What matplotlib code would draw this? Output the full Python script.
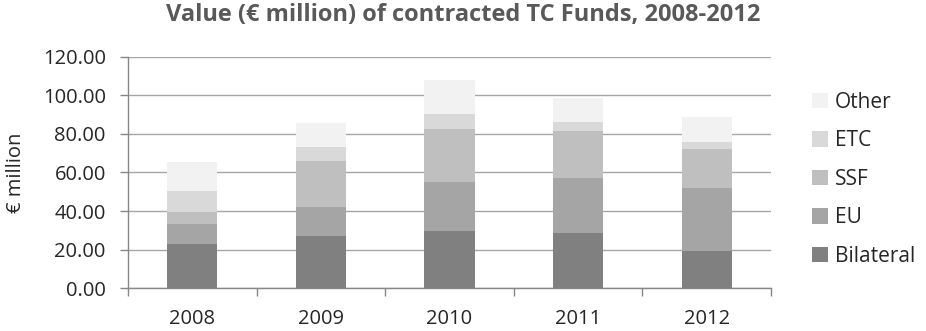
import matplotlib
matplotlib.use("Agg")
import matplotlib.pyplot as plt
import numpy as np

plt.rcParams['font.family'] = ['Open Sans', 'DejaVu Sans']

# data (€ million)
years = ['2008', '2009', '2010', '2011', '2012']
bilateral = [22.8, 27.3, 29.5, 28.5, 19.3]
eu = [10.3, 15.0, 25.4, 28.8, 32.8]
ssf = [6.6, 23.6, 27.6, 24.2, 20.1]
etc = [10.7, 7.5, 7.6, 4.6, 3.4]
other = [14.9, 12.2, 17.8, 12.7, 13.3]

series = [('Bilateral', bilateral, '#808080'),
          ('EU', eu, '#a5a5a5'),
          ('SSF', ssf, '#bfbfbf'),
          ('ETC', etc, '#d9d9d9'),
          ('Other', other, '#f2f2f2')]

fig = plt.figure(figsize=(9.26, 3.31), dpi=100)
ax = fig.add_axes([0.1382, 0.129, 0.6944, 0.6998])

x = np.arange(len(years))
bottom = np.zeros(len(years))
handles = []
for name, vals, col in series:
    b = ax.bar(x, vals, width=0.39, bottom=bottom, color=col, label=name, zorder=3)
    handles.append(b)
    bottom += np.array(vals)

ax.set_xlim(-0.5, len(years) - 0.5)
ax.set_ylim(0, 120)
ax.set_yticks(np.arange(0, 121, 20))
ax.set_yticklabels([f'{v:.2f}' for v in np.arange(0, 121, 20)])
ax.set_xticks(x)
ax.set_xticklabels(years)
ax.set_xticks(np.arange(-0.5, len(years), 1), minor=True)
ax.tick_params(axis='x', which='major', length=0, pad=15, labelsize=14.5, labelcolor='#262626')
ax.tick_params(axis='x', which='minor', length=6, color='#868686', width=1)
ax.tick_params(axis='y', length=6, color='#868686', width=1, labelsize=14.5, labelcolor='#262626', pad=10)

ax.yaxis.grid(True, color='#a6a6a6', linewidth=1, zorder=0)
ax.set_axisbelow(True)
for s in ['top', 'right']:
    ax.spines[s].set_visible(False)
for s in ['left', 'bottom']:
    ax.spines[s].set_color('#868686')
    ax.spines[s].set_linewidth(1)

ax.set_ylabel('€ million', fontsize=14.5, color='#262626', labelpad=12)
fig.suptitle('Value (€ million) of contracted TC Funds, 2008-2012',
             fontsize=17, fontweight='bold', color='#595959', y=0.99)

leg = fig.legend(handles[::-1], [s[0] for s in series][::-1],
                 loc='upper left', bbox_to_anchor=(0.877, 0.723),
                 frameon=False, fontsize=15, labelspacing=0.84,
                 handlelength=0.75, handleheight=0.75, handletextpad=0.35,
                 borderaxespad=0, borderpad=0)
for t in leg.get_texts():
    t.set_color('#262626')

fig.savefig('out.png', dpi=100)
